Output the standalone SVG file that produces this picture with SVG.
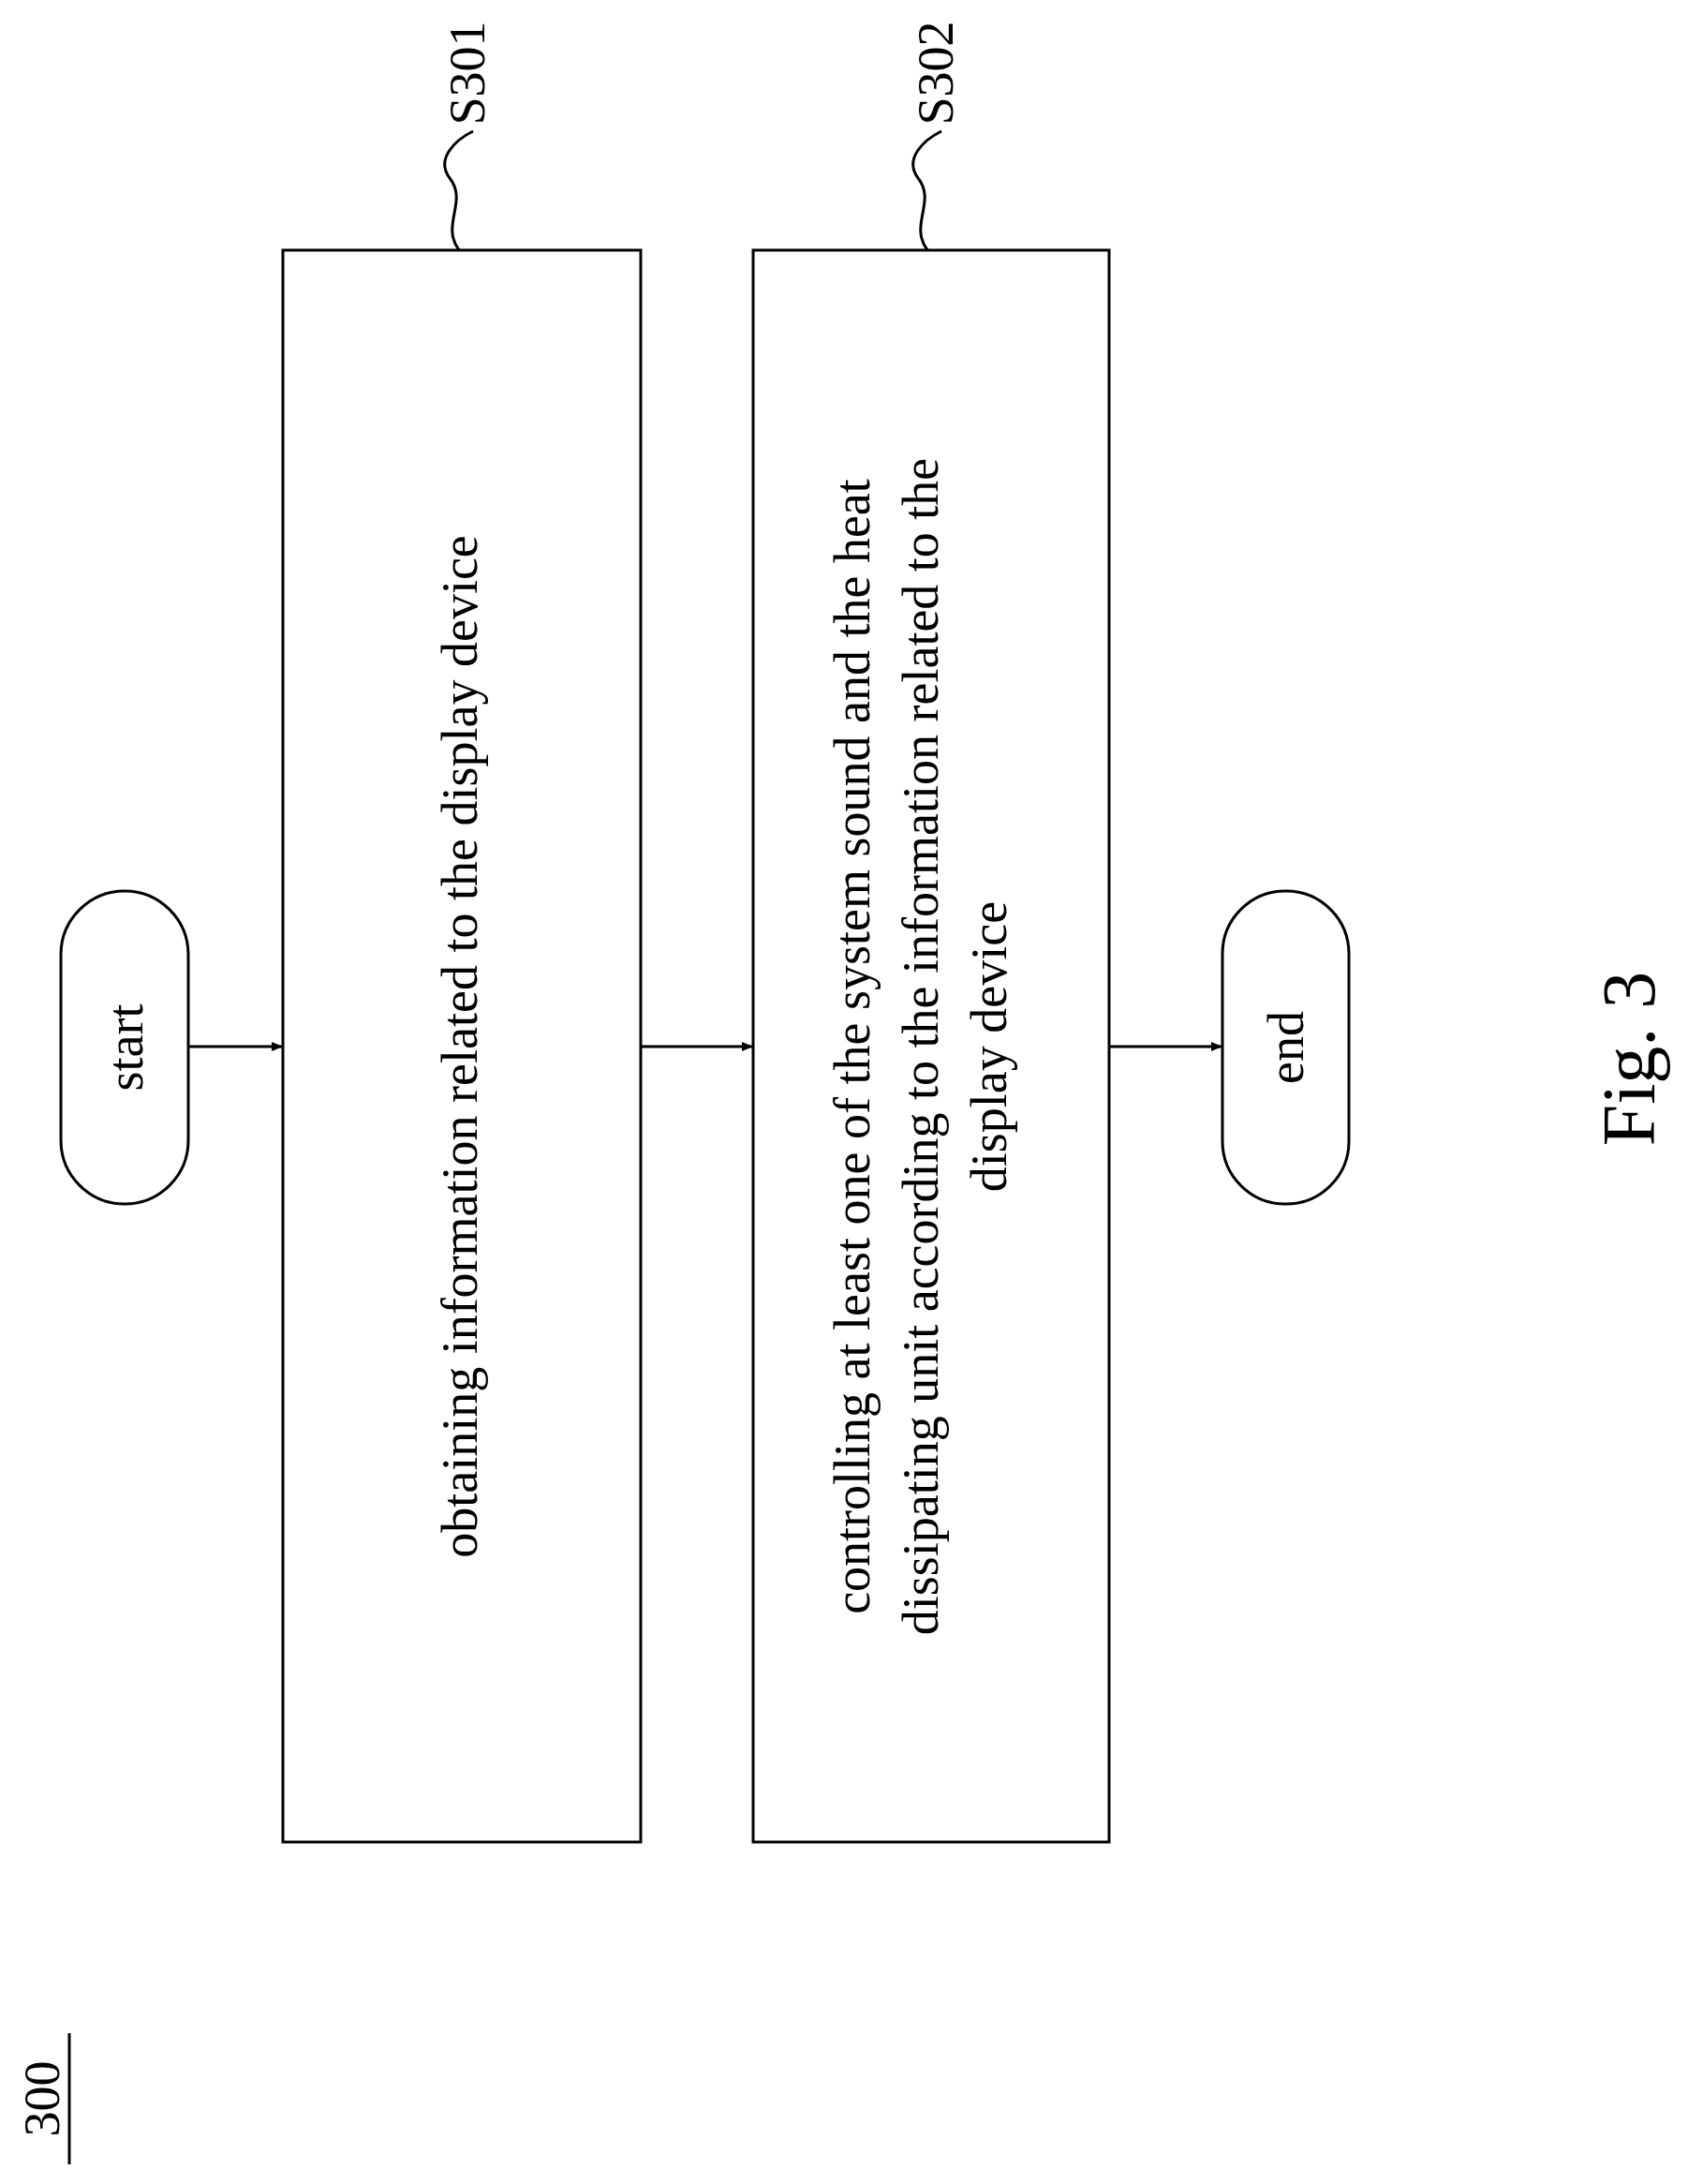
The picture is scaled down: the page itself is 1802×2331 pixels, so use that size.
<svg xmlns="http://www.w3.org/2000/svg" width="1802" height="2331" viewBox="0 0 1802 2331">
<defs>
<style>
.b{fill:none;stroke:#000;stroke-width:3}
.t{font-family:"Liberation Serif",serif;font-size:54px;text-anchor:middle;fill:#000}
</style>
<marker id="a" markerWidth="12" markerHeight="10" refX="12" refY="5" orient="auto" markerUnits="userSpaceOnUse"><path d="M0,0 L30,5 L0,10 Z" transform="scale(0.4,1)"/></marker>
</defs>
<rect width="1802" height="2331" fill="#fff"/>
<g id="start"><rect class="b" x="65" y="951" width="136" height="334" rx="68"/><text class="t" transform="translate(152,1118) rotate(-90)">start</text></g>
<g id="s301"><rect class="b" x="302" y="267" width="382" height="1699"/><text class="t" transform="translate(509,1117) rotate(-90)">obtaining information related to the display device</text>
<path class="b" d="M490,267 C470,240 500,215 480,190 C465,170 485,150 505,140"/><text class="t" transform="translate(517,78) rotate(-90)">S301</text></g>
<g id="s302"><rect class="b" x="804" y="267" width="380" height="1699"/>
<text class="t" transform="translate(928,1117) rotate(-90)">controlling at least one of the system sound and the heat</text>
<text class="t" transform="translate(1001,1117) rotate(-90)">dissipating unit according to the information related to the</text>
<text class="t" transform="translate(1074,1117) rotate(-90)">display device</text>
<path class="b" d="M990,267 C970,240 1000,215 980,190 C965,170 985,150 1005,140"/><text class="t" transform="translate(1017,78) rotate(-90)">S302</text></g>
<g id="end"><rect class="b" x="1305" y="951" width="135" height="334" rx="67"/><text class="t" transform="translate(1391,1118) rotate(-90)">end</text></g>
<g id="connectors" fill="none" stroke="#000" stroke-width="3">
<line x1="201" y1="1117" x2="302" y2="1117" marker-end="url(#a)"/>
<line x1="684" y1="1117" x2="804" y2="1117" marker-end="url(#a)"/>
<line x1="1184" y1="1117" x2="1305" y2="1117" marker-end="url(#a)"/>
</g>
<text class="t" style="font-size:80px" transform="translate(1766,1130) rotate(-90)">Fig. 3</text>
<text class="t" transform="translate(63,2240) rotate(-90)">300</text>
<line x1="74" y1="2170" x2="74" y2="2310" stroke="#000" stroke-width="3"/>
</svg>
